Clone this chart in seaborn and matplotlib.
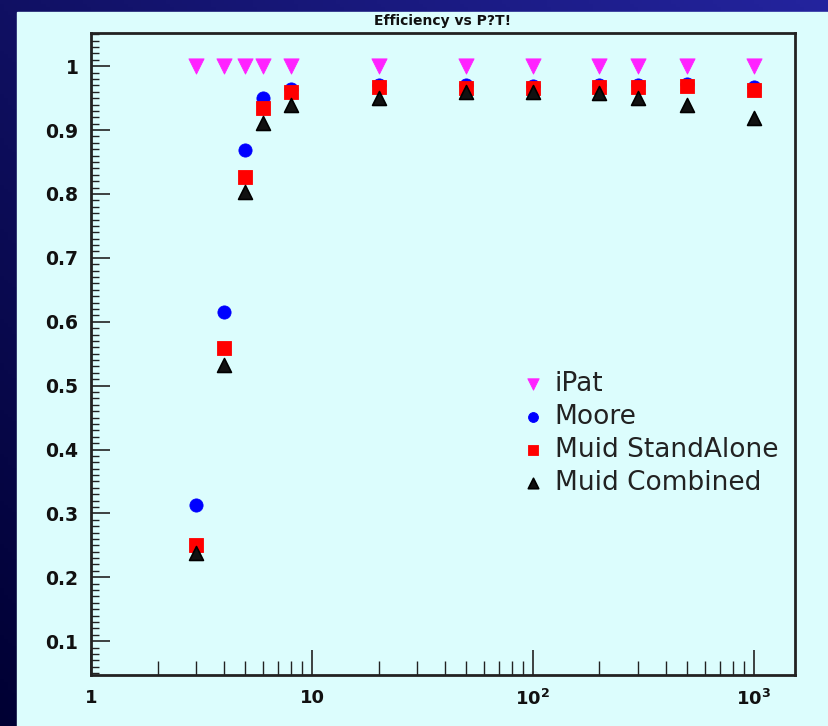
import numpy as np
import pandas as pd
import seaborn as sns
import matplotlib
matplotlib.use("Agg")
import matplotlib.pyplot as plt
from matplotlib.patches import Rectangle
from matplotlib.ticker import FixedLocator, NullFormatter, MultipleLocator

# Transverse momentum bins (GeV)
pt = [3, 4, 5, 6, 8, 20, 50, 100, 200, 300, 500, 1000]

# Reconstruction efficiency per algorithm
eff_ipat = [1.0, 1.0, 1.0, 1.0, 1.0, 1.0, 1.0, 1.0, 1.0, 1.0, 1.0, 1.0]
eff_moore = [0.313, 0.615, 0.869, 0.951, 0.964, 0.970, 0.970, 0.969, 0.970, 0.971, 0.972, 0.967]
eff_muid_sa = [0.250, 0.559, 0.826, 0.934, 0.959, 0.967, 0.966, 0.966, 0.967, 0.967, 0.969, 0.962]
eff_muid_cb = [0.238, 0.532, 0.803, 0.911, 0.939, 0.950, 0.959, 0.959, 0.958, 0.951, 0.939, 0.919]

series_names = ["iPat", "Moore", "Muid StandAlone", "Muid Combined"]
x_ticks = [1, 10, 100, 1000]
x_tick_labels = ["1", "10", r"$\mathbf{10^{2}}$", r"$\mathbf{10^{3}}$"]
y_ticks = [0.1, 0.2, 0.3, 0.4, 0.5, 0.6, 0.7, 0.8, 0.9, 1.0]
y_tick_labels = ["0.1", "0.2", "0.3", "0.4", "0.5", "0.6", "0.7", "0.8", "0.9", "1"]

df = pd.concat([
    pd.DataFrame({"pt": pt, "eff": vals, "algo": name})
    for name, vals in zip(series_names, [eff_ipat, eff_moore, eff_muid_sa, eff_muid_cb])
], ignore_index=True)

sns.set_theme(style="white")
plt.rcParams["font.family"] = ["DejaVu Sans"]
plt.rcParams["mathtext.fontset"] = "dejavusans"

panel = "#dcfdfd"
W, H = 829, 726
fig = plt.figure(figsize=(W / 100, H / 100), dpi=100)

# dark blue gradient frame behind the panel
bg = fig.add_axes([0, 0, 1, 1], zorder=-10)
gx = np.linspace(0, 1, 200)
gy = np.linspace(0, 1, 200)
GX, GY = np.meshgrid(gx, gy)
t = np.clip(0.55 * GX + 0.45 * (1 - GY), 0, 1)
c0 = np.array([0.0, 0.0, 0.20])
c1 = np.array([0.14, 0.14, 0.62])
img = c0[None, None, :] * (1 - t[..., None]) + c1[None, None, :] * t[..., None]
bg.imshow(img, aspect="auto", extent=[0, 1, 0, 1], origin="upper")
bg.add_patch(Rectangle((17 / W, 0), 1, (H - 12) / H, color=panel, transform=bg.transAxes))
bg.set_xlim(0, 1)
bg.set_ylim(0, 1)
bg.axis("off")

ax = fig.add_axes([91 / W, (H - 675) / H, (795 - 91) / W, (675 - 33) / H])
ax.set_facecolor(panel)

palette = {"iPat": "#ff22ff", "Moore": "#0000ff", "Muid StandAlone": "#ff0000", "Muid Combined": "#111111"}
markers = {"iPat": "v", "Moore": "o", "Muid StandAlone": "s", "Muid Combined": "^"}
sizes = {"iPat": 120, "Moore": 90, "Muid StandAlone": 105, "Muid Combined": 100}

for name in series_names:
    sub = df[df["algo"] == name]
    sns.scatterplot(data=sub, x="pt", y="eff", color=palette[name], marker=markers[name],
                    s=sizes[name], linewidth=0.6 if name != "Muid Combined" else 1.2,
                    edgecolor=palette[name] if name != "Muid Combined" else "black",
                    label=name, ax=ax, legend=True, zorder=3)

ax.set_xscale("log")
ax.set_xlim(1, 1534)
ax.set_ylim(0.047, 1.052)
ax.set_xlabel("")
ax.set_ylabel("")

ax.set_xticks(x_ticks)
ax.set_xticklabels(x_tick_labels)
ax.xaxis.set_minor_locator(FixedLocator([m * d for d in [1, 10, 100, 1000] for m in range(2, 10)]))
ax.xaxis.set_minor_formatter(NullFormatter())
ax.set_yticks(y_ticks)
ax.set_yticklabels(y_tick_labels)
ax.yaxis.set_minor_locator(MultipleLocator(0.01))

for lab in ax.get_xticklabels() + ax.get_yticklabels():
    lab.set_fontweight("bold")
    lab.set_color("#111111")
ax.tick_params(axis="y", which="major", direction="in", length=14, width=1.2, pad=9, labelsize=13.5, colors="#222222", labelcolor="#111111")
ax.tick_params(axis="y", which="minor", direction="in", length=6, width=1.0, colors="#222222")
ax.tick_params(axis="x", which="major", direction="in", length=18, width=1.2, pad=10, labelsize=13, colors="#222222", labelcolor="#111111")
ax.tick_params(axis="x", which="minor", direction="in", length=10, width=1.0, colors="#222222")
ax.tick_params(left=True, bottom=True, which="both")

for sp in ax.spines.values():
    sp.set_visible(True)
    sp.set_color("#222222")
    sp.set_linewidth(2.0)

ax.set_title("Efficiency vs P?T!", fontsize=10, fontweight="bold",
             family=["Liberation Sans Narrow", "DejaVu Sans"], pad=6, color="#111111")

leg = ax.legend(loc="center left", bbox_to_anchor=(0.6136, 0.376), frameon=False,
                fontsize=19, borderpad=0, borderaxespad=0, handlelength=0.75,
                handletextpad=0.45, labelspacing=0.27, markerscale=0.75)
for txt in leg.get_texts():
    txt.set_color("#222222")

fig.savefig("out.png", dpi=100, facecolor="#000033")
